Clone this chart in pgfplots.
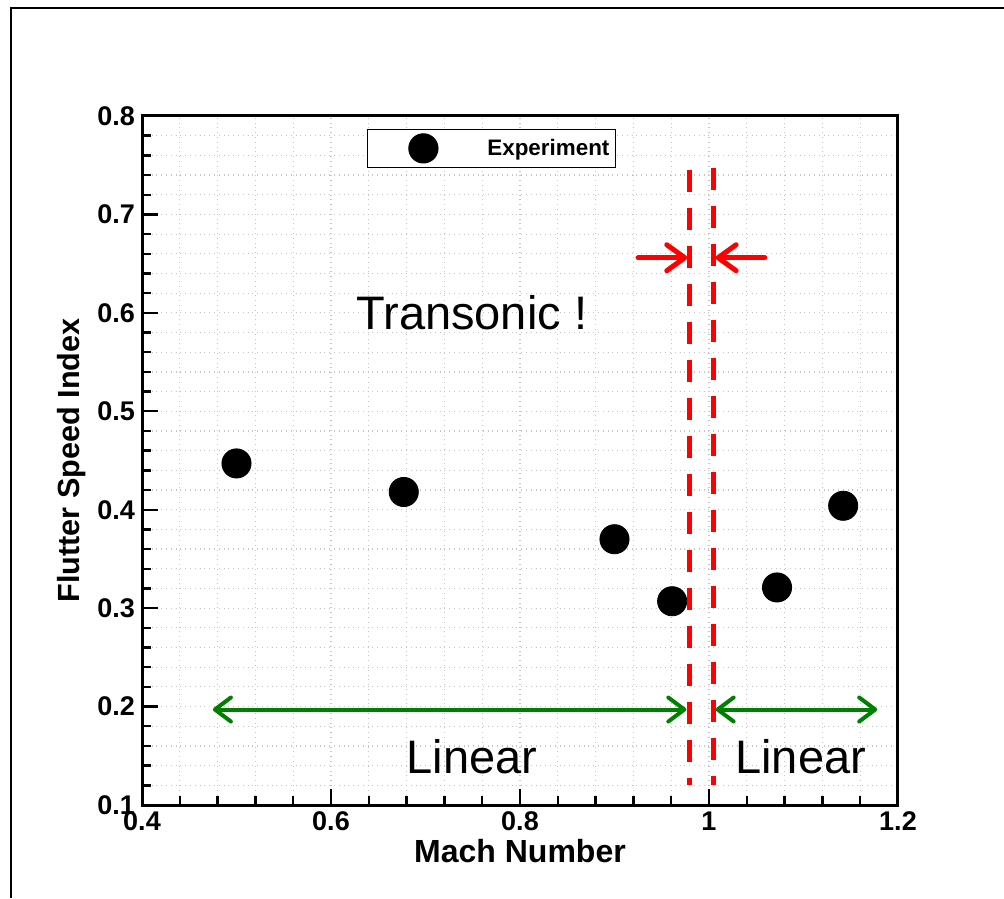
\documentclass[border=0pt]{standalone}
\usepackage{fontspec}
\setmainfont{Liberation Sans}
\usepackage{pgfplots}
\pgfplotsset{compat=1.18}
\usetikzlibrary{arrows.meta}

% flutter data
\pgfplotstableread{
mach  fsi
0.500 0.447
0.677 0.418
0.900 0.370
0.961 0.307
1.072 0.321
1.142 0.404
}\flutterdata

\definecolor{arrowgreen}{RGB}{0,128,0}

\begin{document}
\begin{tikzpicture}
  % page frame, 1 reference pixel = 0.5pt
  \useasboundingbox (0,0) rectangle (502pt,449pt);
  \draw[line width=1pt] (5.5pt,0pt) -- (5.5pt,445pt) -- (502pt,445pt);
  \begin{axis}[
      at={(71pt,46.5pt)}, anchor=south west,
      scale only axis,
      width=378pt, height=344.5pt,
      xmin=0.4, xmax=1.2, ymin=0.1, ymax=0.8,
      xtick={0.4,0.6,...,1.2}, ytick={0.1,0.2,...,0.8},
      minor x tick num=4, minor y tick num=4,
      tick pos=left,
      major tick length=8pt, minor tick length=4.5pt,
      every tick/.style={black, line width=1.2pt},
      axis line style={line width=1.5pt},
      grid=both,
      major grid style={gray!45, dotted, line width=0.6pt},
      minor grid style={gray!45, dotted, line width=0.6pt},
      /pgf/number format/assume math mode=true,
      xticklabel style={font=\fontsize{13.5}{15}\selectfont\bfseries},
      yticklabel style={font=\fontsize{13.5}{15}\selectfont\bfseries},
      xlabel={Mach Number}, ylabel={Flutter Speed Index},
      xlabel style={font=\fontsize{16}{18}\selectfont\bfseries, yshift=3pt},
      ylabel style={font=\fontsize{15.3}{17}\selectfont\bfseries, yshift=-1pt},
      legend style={at={(axis cs:0.638,0.787)}, anchor=north west,
        draw=black, line width=0.5pt, inner xsep=1pt, inner ysep=2pt,
        font=\fontsize{11.2}{13}\selectfont\bfseries},
      legend image code/.code={
        \path[draw=none] (0pt,0pt) -- (57pt,0pt);
        \fill[black] (27pt,0pt) circle (7.3pt);
      },
      clip=false,
    ]
    \addplot[only marks, mark=*, mark size=7.3pt, black] table[x=mach,y=fsi] {\flutterdata};
    \addlegendentry{Experiment}

    % transonic band
    \draw[red, line width=2.5pt, dash pattern=on 11pt off 8pt] (axis cs:0.979,0.745) -- (axis cs:0.979,0.12);
    \draw[red, line width=2.5pt, dash pattern=on 11pt off 8pt] (axis cs:1.005,0.747) -- (axis cs:1.005,0.12);
    \draw[red, line width=2.5pt, line cap=round, -{Straight Barb[length=9pt,width=13pt,round]}] (axis cs:0.925,0.656) -- (axis cs:0.977,0.656);
    \draw[red, line width=2.5pt, line cap=round, -{Straight Barb[length=9pt,width=13pt,round]}] (axis cs:1.059,0.656) -- (axis cs:1.007,0.656);

    % linear ranges
    \draw[arrowgreen, line width=2pt, {Straight Barb[length=8pt,width=12pt,round]}-{Straight Barb[length=8pt,width=12pt,round]}] (axis cs:0.475,0.197) -- (axis cs:0.976,0.197);
    \draw[arrowgreen, line width=2pt, {Straight Barb[length=8pt,width=12pt,round]}-{Straight Barb[length=8pt,width=12pt,round]}] (axis cs:1.007,0.197) -- (axis cs:1.178,0.197);

    \node[font=\fontsize{23.5}{26}\selectfont] at (axis cs:0.749,0.6) {Transonic !};
    \node[font=\fontsize{23.5}{26}\selectfont] at (axis cs:0.749,0.149) {Linear};
    \node[font=\fontsize{23.5}{26}\selectfont] at (axis cs:1.097,0.149) {Linear};
  \end{axis}
\end{tikzpicture}
\end{document}
